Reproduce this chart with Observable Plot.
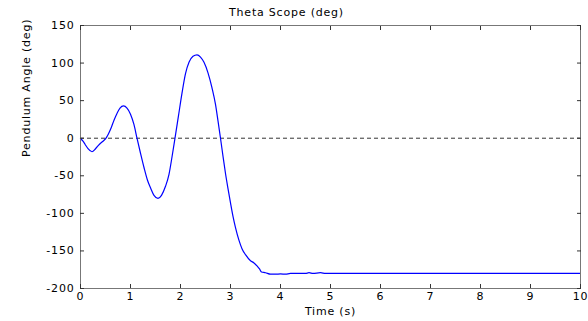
<!DOCTYPE html>
<html>
<head>
<meta charset="utf-8">
<script src="https://cdn.jsdelivr.net/npm/d3@7"></script>
<script src="https://cdn.jsdelivr.net/npm/@observablehq/plot@0.6"></script>
<style>
  html, body { margin: 0; padding: 0; background: #ffffff; }
  svg { display: block; }
</style>
</head>
<body>
<div id="chart"></div>
<script>
const titleText = "Theta Scope (deg)";
const xLabel = "Time (s)";
const yLabel = "Pendulum Angle (deg)";
const xTicks = [0, 1, 2, 3, 4, 5, 6, 7, 8, 9, 10];
const yTicks = [-200, -150, -100, -50, 0, 50, 100, 150];

const time = [0.00, 0.05, 0.09, 0.15, 0.23, 0.30, 0.38, 0.45, 0.51, 0.56, 0.62, 0.67, 0.73, 0.79, 0.86,
  0.93, 1.00, 1.07, 1.13, 1.20, 1.27, 1.34, 1.40, 1.47, 1.55, 1.62, 1.70, 1.77, 1.83, 1.89,
  1.96, 2.03, 2.10, 2.17, 2.25, 2.33, 2.40, 2.47, 2.55, 2.63, 2.70, 2.75, 2.80, 2.85, 2.90,
  2.95, 3.00, 3.05, 3.10, 3.17, 3.23, 3.30, 3.40, 3.47, 3.53, 3.58, 3.62, 3.70, 3.80, 3.90,
  4.00, 4.10, 4.20, 4.50, 4.57, 4.65, 4.80, 4.90, 10.00];
const theta = [0, -4, -8, -14, -18, -14, -8, -4, 0, 6, 15, 24, 33, 40, 43,
  40, 32, 18, 0, -20, -39, -56, -66, -76, -80, -76, -64, -48, -25, 0,
  30, 60, 86, 101, 109, 111, 108, 101, 87, 67, 45, 23, 0, -24, -47,
  -67, -86, -104, -119, -136, -147, -155, -163, -166, -170, -174, -178, -179, -181, -181,
  -180.5, -181, -180, -180, -179, -180, -179, -180, -180];

const data = time.map((t, i) => ({t, v: theta[i]}));

const font = "DejaVu Sans, sans-serif";
const chart = Plot.plot({
  width: 588,
  height: 321,
  marginLeft: 80,
  marginRight: 8,
  marginTop: 25,
  marginBottom: 33,
  style: {fontFamily: font, fontSize: "11px", background: "#ffffff", color: "#000", letterSpacing: "0.8px"},
  x: {domain: [0, 10]},
  y: {domain: [-200, 150]},
  marks: [
    Plot.ruleY([0], {stroke: "#333", strokeWidth: 1, strokeDasharray: "4,3"}),
    Plot.line(data, {x: "t", y: "v", stroke: "#0000ff", strokeWidth: 1.2, curve: "monotone-x"}),
    Plot.frame({stroke: "#777", strokeWidth: 1}),
    Plot.axisX({anchor: "bottom", ticks: xTicks, tickSize: 0, tickPadding: 4, label: null, tickFormat: d => String(d)}),
    Plot.axisX({anchor: "bottom", ticks: xTicks, tickSize: -4, label: null, tickFormat: () => "", stroke: "#333"}),
    Plot.axisX({anchor: "top", ticks: xTicks, tickSize: -4, label: null, tickFormat: () => "", stroke: "#333"}),
    Plot.axisY({anchor: "left", ticks: yTicks, tickSize: 0, tickPadding: 6, label: null, tickFormat: d => String(d)}),
    Plot.axisY({anchor: "left", ticks: yTicks, tickSize: -4, label: null, tickFormat: () => "", stroke: "#333"}),
    Plot.axisY({anchor: "right", ticks: yTicks, tickSize: -4, label: null, tickFormat: () => "", stroke: "#333"}),
    Plot.text([titleText], {frameAnchor: "top", dy: -13, dx: -44, text: d => d, lineAnchor: "middle", fill: "#000"}),
    Plot.text([xLabel], {frameAnchor: "bottom", dy: 23, text: d => d, lineAnchor: "middle", fill: "#000"}),
    Plot.text([yLabel], {frameAnchor: "left", dx: -54, rotate: -90, text: d => d, lineAnchor: "middle", fill: "#000"})
  ]
});
document.getElementById("chart").appendChild(chart);
</script>
</body>
</html>
